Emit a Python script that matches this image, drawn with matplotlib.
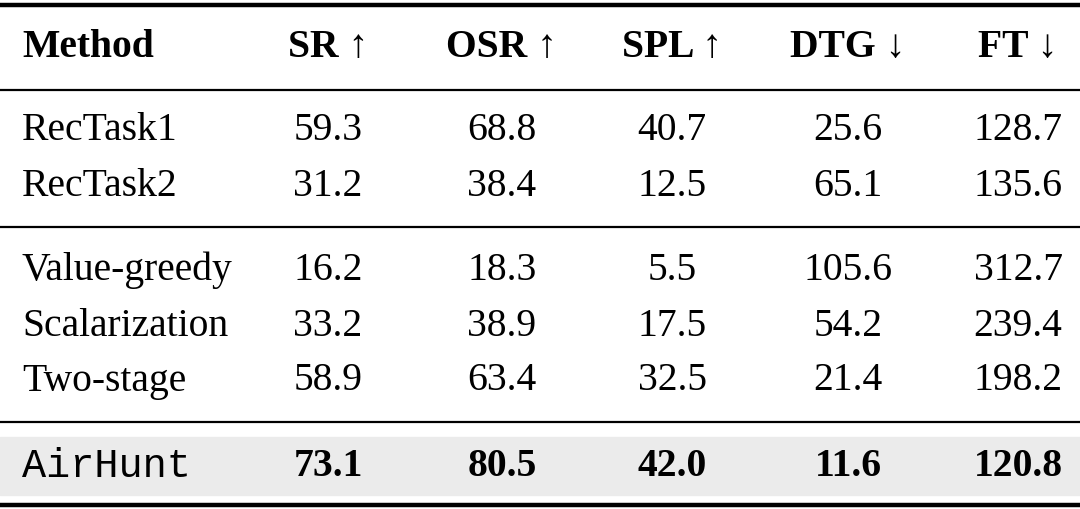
import matplotlib.pyplot as plt

headers = ["Method", "SR \u2191", "OSR \u2191", "SPL \u2191", "DTG \u2193", "FT \u2193"]
methods = ["RecTask1", "RecTask2", "Value-greedy", "Scalarization", "Two-stage", "AirHunt"]
sr = [59.3, 31.2, 16.2, 33.2, 58.9, 73.1]
osr = [68.8, 38.4, 18.3, 38.9, 63.4, 80.5]
spl = [40.7, 12.5, 5.5, 17.5, 32.5, 42.0]
dtg = [25.6, 65.1, 105.6, 54.2, 21.4, 11.6]
ft = [128.7, 135.6, 312.7, 239.4, 198.2, 120.8]

row_y = [131, 187, 270, 326, 381, 466]
col_x = [328, 502, 672, 848, 1018]
serif = ["Liberation Serif", "DejaVu Serif"]
fs = 28.5

fig = plt.figure(figsize=(10.8, 5.09), dpi=100)
ax = fig.add_axes([0, 0, 1, 1])
ax.set_xlim(0, 1080)
ax.set_ylim(509, 0)
ax.axis("off")

ax.axhspan(437, 495, color="#ebebeb", zorder=0)
for y, lw in [(5, 3.2), (90, 1.6), (227, 1.6), (422, 1.6), (505, 3.2)]:
    ax.axhline(y, color="black", lw=lw)

ax.text(22, 47, headers[0], fontsize=fs, family=serif, weight="bold", va="center")
for x, h in zip(col_x, headers[1:]):
    ax.text(x, 47, h, fontsize=fs, family=serif + ["DejaVu Sans"], weight="bold",
            ha="center", va="center")

cols = [sr, osr, spl, dtg, ft]
for i, (m, y) in enumerate(zip(methods, row_y)):
    last = i == len(methods) - 1
    if last:
        ax.text(22, y, m, fontsize=fs + 0.5, family=["Liberation Mono", "DejaVu Sans Mono"], va="center")
    else:
        ax.text(22, y, m, fontsize=fs, family=serif, va="center")
    for x, c in zip(col_x, cols):
        ax.text(x, y, f"{c[i]:.1f}", fontsize=fs, family=serif, ha="center", va="center",
                weight="bold" if last else "normal")

fig.savefig("out.png", dpi=100)
